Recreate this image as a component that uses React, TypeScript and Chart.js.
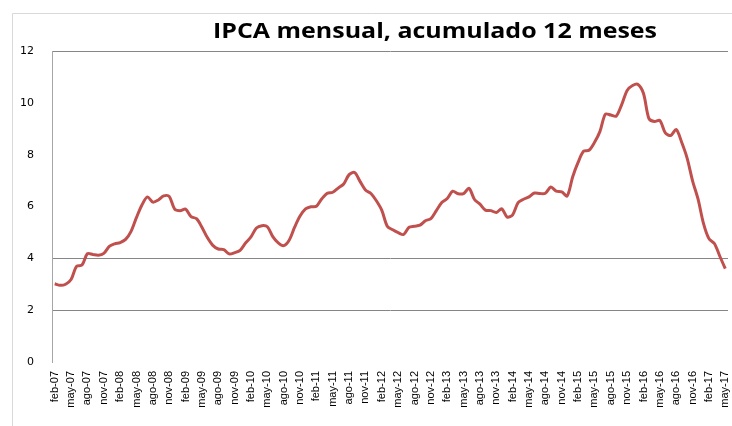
import React, { useEffect, useRef } from "react";
import { Chart, registerables } from "chart.js";

Chart.register(...registerables);

const TITLE = "IPCA mensual, acumulado 12 meses";
const MONTHS = ["ene", "feb", "mar", "abr", "may", "jun", "jul", "ago", "sep", "oct", "nov", "dic"];
const START_MONTH = 1; // feb
const START_YEAR = 2007;

const V2007 = [3.02, 2.96, 3.0, 3.18, 3.69, 3.74, 4.18, 4.15, 4.12, 4.19, 4.46];
const V2008 = [4.56, 4.61, 4.73, 5.04, 5.58, 6.06, 6.37, 6.17, 6.25, 6.41, 6.39, 5.9];
const V2009 = [5.84, 5.9, 5.61, 5.53, 5.2, 4.8, 4.5, 4.36, 4.34, 4.17, 4.22, 4.31];
const V2010 = [4.59, 4.83, 5.17, 5.26, 5.22, 4.84, 4.6, 4.49, 4.7, 5.2, 5.63, 5.91];
const V2011 = [5.99, 6.01, 6.3, 6.51, 6.55, 6.71, 6.87, 7.23, 7.31, 6.97, 6.64, 6.5];
const V2012 = [6.22, 5.85, 5.24, 5.1, 4.99, 4.92, 5.2, 5.24, 5.28, 5.45, 5.53, 5.84];
const V2013 = [6.15, 6.31, 6.59, 6.49, 6.5, 6.7, 6.27, 6.09, 5.86, 5.84, 5.77, 5.91];
const V2014 = [5.59, 5.68, 6.15, 6.28, 6.37, 6.52, 6.5, 6.51, 6.75, 6.59, 6.56, 6.41];
const V2015 = [7.14, 7.7, 8.13, 8.17, 8.47, 8.89, 9.56, 9.53, 9.49, 9.93, 10.48, 10.67];
const V2016 = [10.71, 10.36, 9.39, 9.28, 9.32, 8.84, 8.74, 8.97, 8.48, 7.87, 6.99, 6.29];
const V2017 = [5.35, 4.76, 4.57, 4.08, 3.6];

const VALUES = [...V2007, ...V2008, ...V2009, ...V2010, ...V2011, ...V2012, ...V2013, ...V2014, ...V2015, ...V2016, ...V2017];
const LABELS = VALUES.map((_, i) => {
  const m = START_MONTH + i;
  const y = START_YEAR + Math.floor(m / 12);
  return MONTHS[m % 12] + "-" + String(y % 100).padStart(2, "0");
});

const Y_MIN = 0;
const Y_MAX = 12;
const Y_STEP = 2;
const GRID_AT = [2, 4, 12];

export default function App() {
  const ref = useRef<HTMLCanvasElement | null>(null);

  useEffect(() => {
    if (!ref.current) return;
    const framePlugin = {
      id: "frameTitle",
      beforeDraw(chart: any) {
        const ctx = chart.ctx;
        ctx.save();
        ctx.fillStyle = "#ffffff";
        ctx.fillRect(0, 0, chart.width, chart.height);
        ctx.strokeStyle = "#d9d9d9";
        ctx.lineWidth = 1;
        ctx.beginPath();
        ctx.moveTo(12.5, chart.height);
        ctx.lineTo(12.5, 13.5);
        ctx.lineTo(chart.width, 13.5);
        ctx.stroke();
        ctx.fillStyle = "#000000";
        ctx.font = "bold 21px 'Open Sans'";
        ctx.textAlign = "center";
        ctx.textBaseline = "alphabetic";
        const w = ctx.measureText(TITLE).width;
        const sx = 444 / w;
        ctx.translate(435, 38);
        ctx.scale(sx, 1);
        ctx.fillText(TITLE, 0, 0);
        ctx.restore();
      },
    };

    const chart = new Chart(ref.current, {
      type: "line",
      data: {
        labels: LABELS,
        datasets: [
          {
            data: VALUES,
            borderColor: "#c0504d",
            borderWidth: 3,
            pointRadius: 0,
            tension: 0.3,
            fill: false,
          },
        ],
      },
      plugins: [framePlugin],
      options: {
        animation: false,
        responsive: false,
        maintainAspectRatio: false,
        layout: { padding: { top: 51, right: 4, left: 0, bottom: 0 } },
        plugins: { legend: { display: false }, title: { display: false }, tooltip: { enabled: false } },
        scales: {
          x: {
            offset: true,
            afterFit: (s: any) => {
              s.height = 64;
              s.paddingLeft = 0;
              s.paddingRight = 0;
            },
            grid: { display: false, drawTicks: false },
            border: { display: false },
            ticks: {
              autoSkip: false,
              minRotation: 90,
              maxRotation: 90,
              padding: 9,
              color: "#000000",
              font: { family: "'Liberation Sans'", size: 11 },
              callback: (_v: any, i: number) => (i % 3 === 0 ? LABELS[i] : null),
            },
          },
          y: {
            min: Y_MIN,
            max: Y_MAX,
            afterFit: (s: any) => {
              s.width = 52;
              s.paddingTop = 0;
              s.paddingBottom = 0;
            },
            ticks: {
              stepSize: Y_STEP,
              padding: 18,
              color: "#000000",
              font: { family: "'DejaVu Sans'", size: 11 },
            },
            grid: {
              drawTicks: false,
              color: (c: any) => (GRID_AT.includes(c.tick?.value) ? "#868686" : "rgba(0,0,0,0)"),
              lineWidth: 1,
            },
            border: { display: true, color: "#a6a6a6", width: 1 },
          },
        },
      },
    });
    return () => chart.destroy();
  }, []);

  return (
    <div style={{ position: "fixed", left: 0, top: 0, width: 732, height: 426, background: "#fff" }}>
      <canvas ref={ref} width={732} height={426} style={{ display: "block", width: 732, height: 426 }} />
    </div>
  );
}
